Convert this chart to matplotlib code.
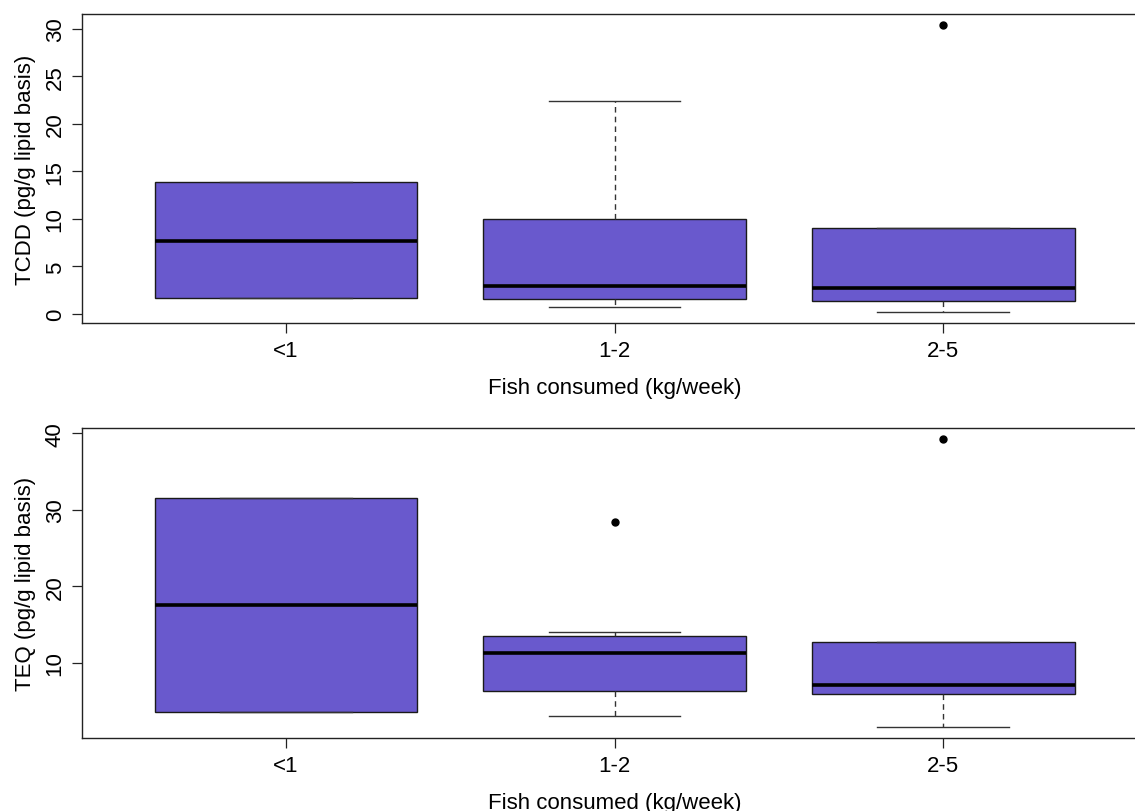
import matplotlib
matplotlib.use('Agg')
import matplotlib.pyplot as plt

plt.rcParams['font.family'] = ['Liberation Sans', 'DejaVu Sans']

groups = ['<1', '1-2', '2-5']
xlab = 'Fish consumed (kg/week)'

# TCDD (pg/g lipid basis)
tcdd_whislo = [1.68, 0.73, 0.24]
tcdd_q1 = [1.68, 1.57, 1.33]
tcdd_med = [7.66, 2.94, 2.76]
tcdd_q3 = [13.85, 9.97, 9.02]
tcdd_whishi = [13.85, 22.45, 9.02]
tcdd_fliers = [[], [], [30.36]]

# TEQ (pg/g lipid basis)
teq_whislo = [3.5, 3.04, 1.63]
teq_q1 = [3.5, 6.23, 5.93]
teq_med = [17.6, 11.2, 7.11]
teq_q3 = [31.6, 13.5, 12.63]
teq_whishi = [31.6, 13.98, 12.63]
teq_fliers = [[], [28.4], [39.2]]

fill = '#6959CD'
W, H = 1135, 812


def make_stats(lo, q1, med, q3, hi, fl):
    out = []
    for i in range(len(lo)):
        out.append(dict(whislo=lo[i], q1=q1[i], med=med[i], q3=q3[i],
                        whishi=hi[i], fliers=fl[i]))
    return out


def draw(ax, stats, ylabel, yticks):
    ax.bxp(stats, positions=[1, 2, 3], widths=0.8, capwidths=0.4,
           patch_artist=True,
           boxprops=dict(facecolor=fill, edgecolor='#1a1a1a', linewidth=1.0),
           medianprops=dict(color='black', linewidth=2.6),
           whiskerprops=dict(color='#333333', linewidth=1.0, linestyle=(0, (4, 3))),
           capprops=dict(color='#333333', linewidth=1.0),
           flierprops=dict(marker='o', markerfacecolor='black',
                           markeredgecolor='black', markersize=5))
    vals = []
    for s in stats:
        vals += [s['whislo'], s['whishi']] + list(s['fliers'])
    lo, hi = min(vals), max(vals)
    pad = (hi - lo) * 0.04
    ax.set_ylim(lo - pad, hi + pad)
    ax.set_xlim(0.38, 3.62)
    ax.set_xticks([1, 2, 3])
    ax.set_xticklabels(groups)
    ax.set_yticks(yticks)
    ax.set_yticklabels([str(t) for t in yticks], rotation=90, va='center')
    ax.tick_params(length=7, width=0.9, labelsize=16, pad=5, color='#222222')
    ax.set_ylabel(ylabel, fontsize=16, labelpad=6)
    ax.set_xlabel(xlab, fontsize=16, labelpad=12)
    for sp in ax.spines.values():
        sp.set_linewidth(1.0)
        sp.set_color('#222222')


fig = plt.figure(figsize=(W / 100, H / 100), dpi=100)
left = 82.3 / W
width = (1146.8 - 82.3) / W
ax1 = fig.add_axes([left, 1 - 324 / H, width, 309 / H])
ax2 = fig.add_axes([left, 1 - 739 / H, width, 310 / H])

draw(ax1, make_stats(tcdd_whislo, tcdd_q1, tcdd_med, tcdd_q3, tcdd_whishi, tcdd_fliers),
     'TCDD (pg/g lipid basis)', [0, 5, 10, 15, 20, 25, 30])
draw(ax2, make_stats(teq_whislo, teq_q1, teq_med, teq_q3, teq_whishi, teq_fliers),
     'TEQ (pg/g lipid basis)', [10, 20, 30, 40])

fig.savefig('out.png', dpi=100)
